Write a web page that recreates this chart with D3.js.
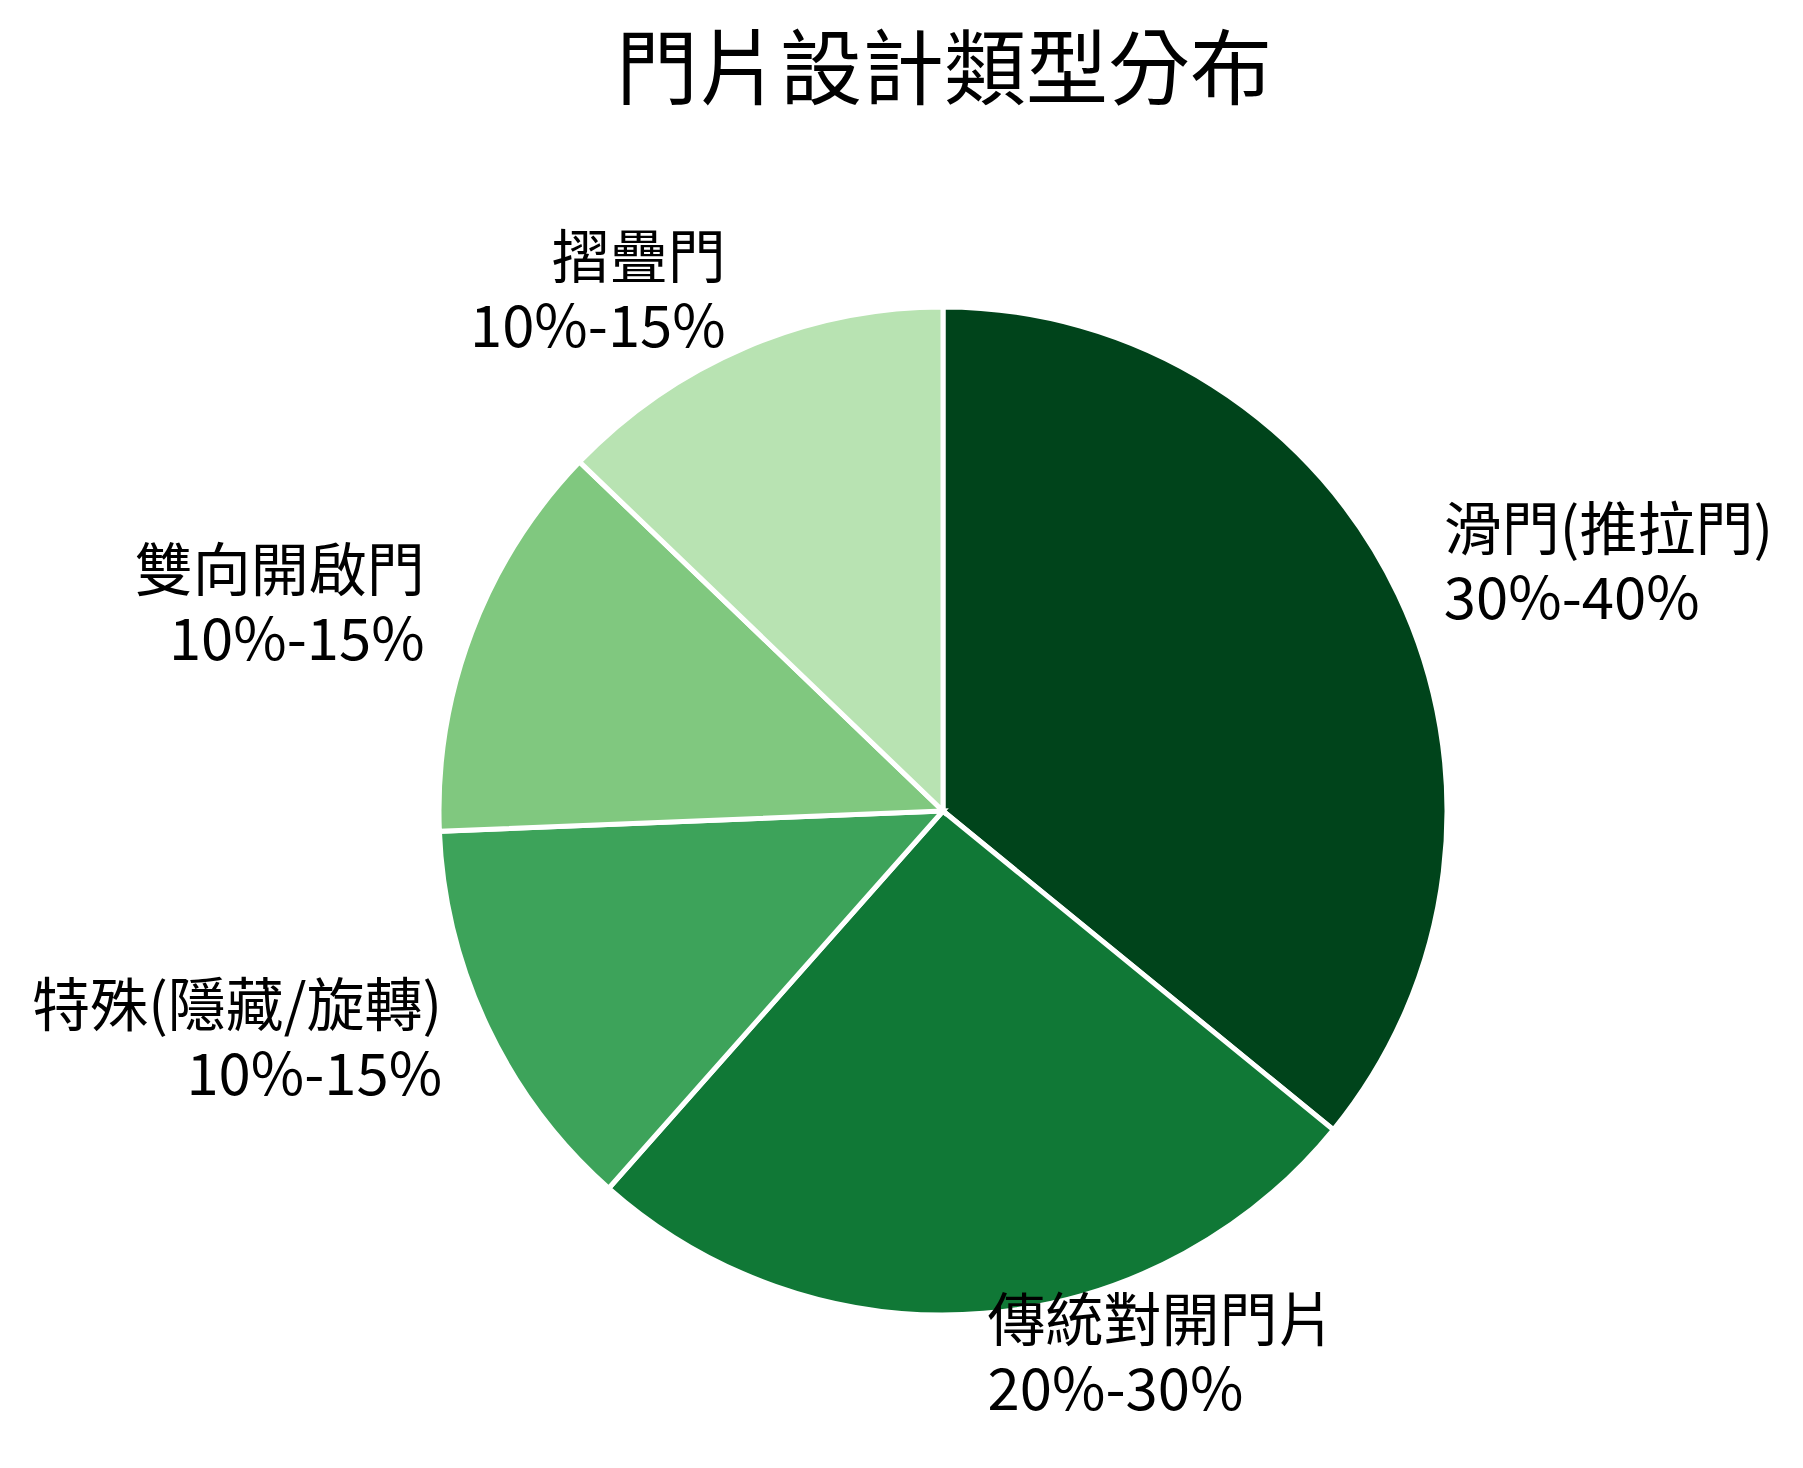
<!DOCTYPE html>
<html>
<head>
<meta charset="utf-8">
<script src="https://cdn.jsdelivr.net/npm/d3@7"></script>
<style>
  body { margin: 0; background: #fff; }
  text { font-family: "Noto Sans CJK TC", "Noto Sans CJK SC", sans-serif; fill: #000; }
</style>
</head>
<body>
<div id="chart"></div>
<script>
var categories = ['滑門(推拉門)', '傳統對開門片', '特殊(隱藏/旋轉)', '雙向開啟門', '摺疊門']
var values = [35, 25, 12.5, 12.5, 12.5]
var rangeLabels = ['30%-40%', '20%-30%', '10%-15%', '10%-15%', '10%-15%']
var colors = ['#00441b', '#107836', '#3da35a', '#80c87f', '#b8e3b2']

var width = 1803, height = 1468
var cx = 943, cy = 811, radius = 504

var svg = d3.select('#chart')
  .append('svg')
    .attr('width', width)
    .attr('height', height)

svg.append('text')
    .attr('x', 944)
    .attr('y', 98)
    .attr('text-anchor', 'middle')
    .style('font-size', '82px')
    .text('門片設計類型分布')

var data = categories.map(function (c, i) {
  return { name: c, value: values[i], range: rangeLabels[i], color: colors[i] }
})

var pie = d3.pie().sort(null).value(function (d) { return d.value })
var arc = d3.arc().innerRadius(0).outerRadius(radius)
var labelArc = d3.arc().innerRadius(radius * 1.1).outerRadius(radius * 1.1)

var g = svg.append('g').attr('transform', 'translate(' + cx + ',' + cy + ')')

g.selectAll('path')
  .data(pie(data))
  .enter().append('path')
    .attr('d', arc)
    .style('fill', function (d) { return d.data.color })
    .style('stroke', '#fff')
    .style('stroke-width', '5px')

// two lines per label: name, then the range
var lineH = 69
var labels = g.selectAll('g.lbl')
  .data(pie(data))
  .enter().append('g')
    .attr('class', 'lbl')

labels.append('text')
    .attr('x', function (d) { return labelArc.centroid(d)[0] })
    .attr('y', function (d) { return labelArc.centroid(d)[1] - 23 })
    .attr('text-anchor', function (d) { return labelArc.centroid(d)[0] < 0 ? 'end' : 'start' })
    .style('font-size', '58px')
    .text(function (d) { return d.data.name })

labels.append('text')
    .attr('x', function (d) { return labelArc.centroid(d)[0] })
    .attr('y', function (d) { return labelArc.centroid(d)[1] - 23 + lineH })
    .attr('text-anchor', function (d) { return labelArc.centroid(d)[0] < 0 ? 'end' : 'start' })
    .style('font-size', '58px')
    .text(function (d) { return d.data.range })
</script>
</body>
</html>
